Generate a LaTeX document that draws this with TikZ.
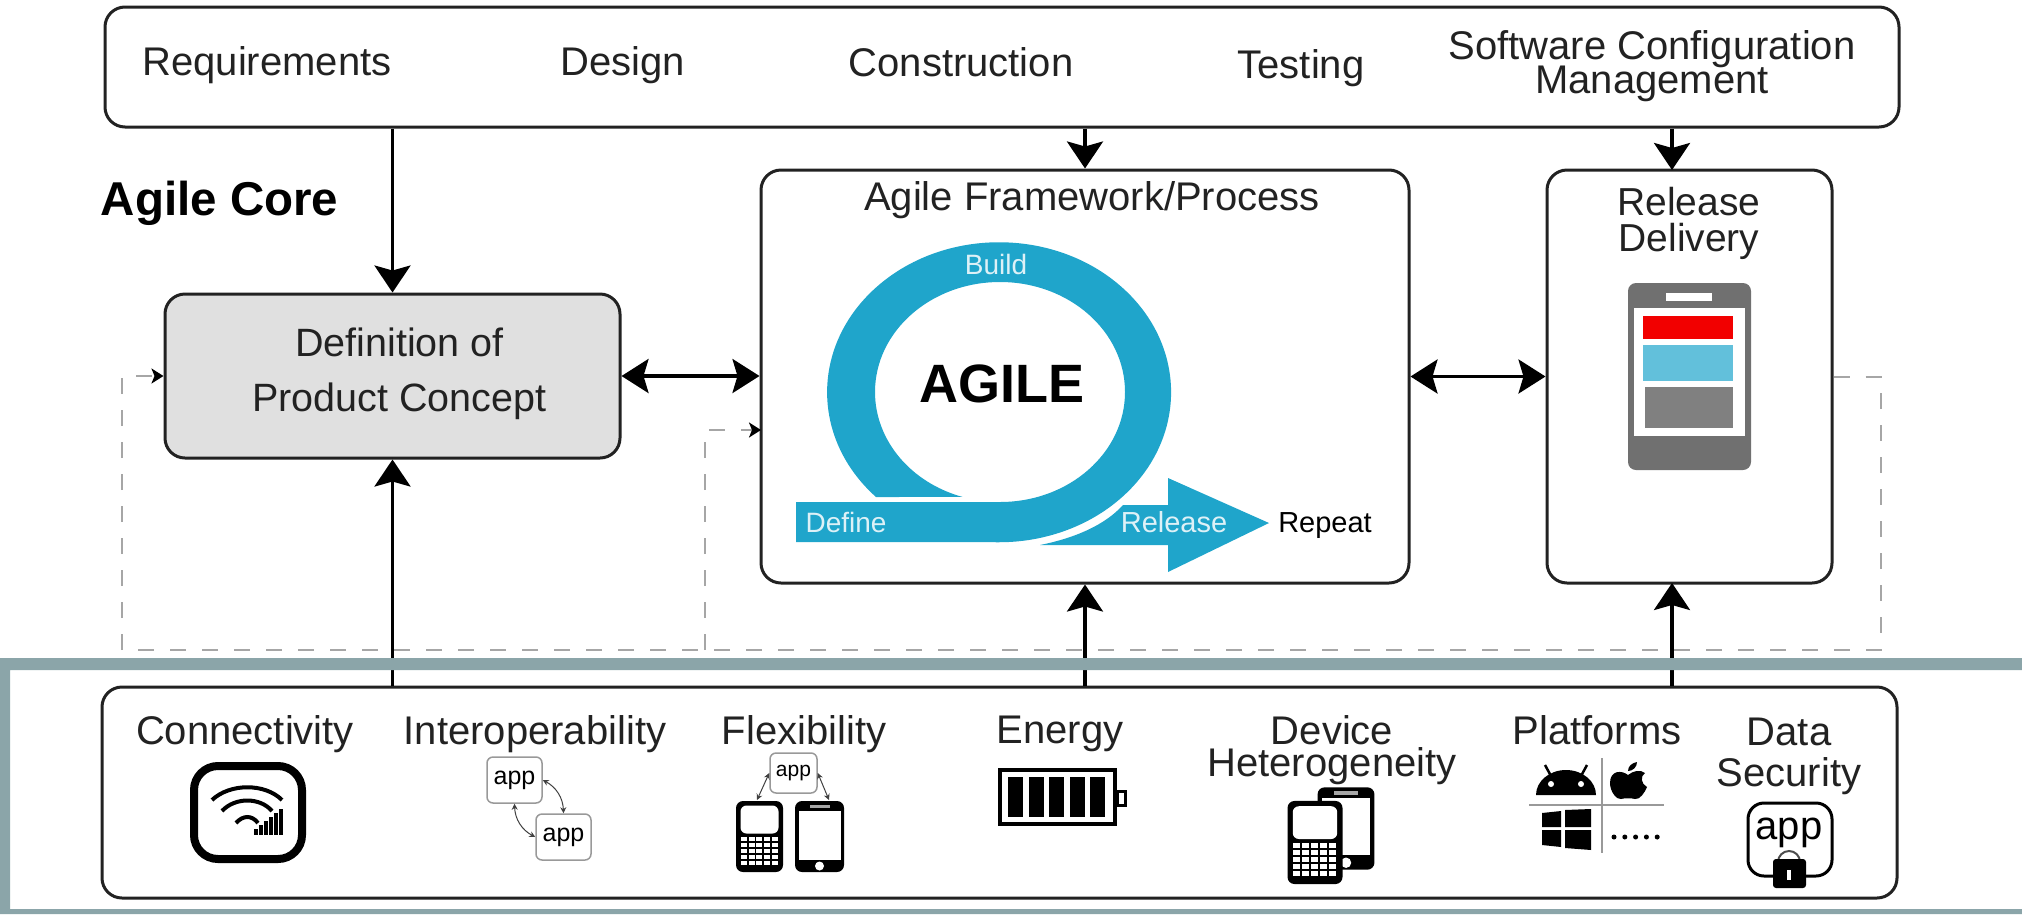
\documentclass[tikz,border=0pt]{standalone}
\usepackage{fontspec}
\setmainfont{Liberation Sans}
\usetikzlibrary{arrows.meta}

\definecolor{agileblue}{HTML}{1FA5CB}
\definecolor{framecol}{HTML}{8BA5A9}
\definecolor{inkcol}{HTML}{222222}

\def\tightlines{\lineskiplimit=-20pt\relax}

\tikzset{
    lab/.style={inner sep=0pt,text=inkcol,align=center,font=\fontsize{40}{34}\selectfont\tightlines},
    box/.style={draw=inkcol,line width=3pt,rounded corners=20pt,inner sep=0pt},
    bigarrow/.style={draw=black,line width=3.5pt,-{Stealth[length=27pt,width=36pt,inset=5pt]}},
    twoarrow/.style={draw=black,line width=3.5pt,{Stealth[length=27pt,width=34pt,inset=5pt]}-{Stealth[length=27pt,width=34pt,inset=5pt]}},
    dashline/.style={draw=gray!70,line width=2pt,dash pattern=on 16pt off 16pt},
    dashtip/.style={-{Stealth[length=12pt,width=15pt,inset=3pt,black]}},
    appbox/.style={draw=gray!80,line width=1.5pt,rounded corners=6pt,inner sep=0pt,text=black},
    appline/.style={draw=black!75,line width=1pt,{Stealth[length=6pt,width=6pt]}-{Stealth[length=6pt,width=6pt]}},
    keypad/.pic={
        \fill[rounded corners=7pt] (-23.5,-35.5) rectangle (23.5,35.5);
        \fill[white,rounded corners=6pt] (-19,-31) rectangle (19,-3);
        \foreach \i in {0,...,4}
            \foreach \j in {0,...,4}
                \fill[white] (-18.5+\i*7.7,0+\j*6) rectangle ++(6,4.4);
    },
    smartphone/.pic={
        \fill[rounded corners=7pt] (-24.5,-35.5) rectangle (24.5,35.5);
        \fill[white] (-21,-26) rectangle (21,23);
        \fill[gray!70] (-10,-32) rectangle (10,-28.5);
        \fill[white] (0,29.5) circle (4.5);
    },
}

\begin{document}
\begin{tikzpicture}[x=1pt,y=-1pt]
    \useasboundingbox (0,0) rectangle (2022,914);

    %main boxes:
    \node[box,minimum width=1794pt,minimum height=120pt] (top) at (1002,67) {};
    \node[box,minimum width=1795pt,minimum height=211pt] (bottom) at (999.5,792.5) {};
    \node[box,fill=gray!24,minimum width=455pt,minimum height=164pt] (def) at (392.5,376) {};
    \node[box,minimum width=648pt,minimum height=413pt] (frame) at (1085,376.5) {};
    \node[box,minimum width=285pt,minimum height=413pt] (release) at (1689.5,376.5) {};
    \node[lab,font=\fontsize{39.5}{55}\selectfont] (deftext) at (399.5,374) {Definition of\\Product Concept};

    %top row:
    \node[lab] (req) at (267,65) {Requirements};
    \node[lab] (design) at (623,65) {Design};
    \node[lab] (constr) at (961,62) {Construction};
    \node[lab] (testing) at (1301,68) {Testing};
    \node[lab] (scm) at (1652,66) {Software Configuration\\Management};
    \node[lab,text=black,font=\fontsize{47.5}{47.5}\selectfont\bfseries] (core) at (219.5,203) {Agile Core};

    %arrows:
    \coordinate (reltop) at (1672,170);
    \coordinate (relbot) at (1672,583);
    \draw[bigarrow] (top.south -| def.north) -- (def.north);
    \draw[bigarrow] (top.south -| frame.north) -- (frame.north);
    \draw[bigarrow] (top.south -| reltop) -- (reltop);
    \draw[bigarrow] (bottom.north -| def.south) -- (def.south);
    \draw[bigarrow] (bottom.north -| frame.south) -- (frame.south);
    \draw[bigarrow] (bottom.north -| relbot) -- (relbot);
    \draw[twoarrow] (def.east) -- (frame.west |- def.east);
    \draw[twoarrow] (frame.east |- release.west) -- (release.west);

    %dashed feedback:
    \coordinate (dashse) at (1881,650);
    \coordinate (dashsw) at (122,650);
    \coordinate (dashmid) at (705,650);
    \coordinate (framein) at (761,430);
    \draw[dashline,dashtip] (release.east) -| (dashse) -- (dashsw) |- (def.west);
    \draw[dashline,dashtip] (dashmid) |- (framein);

    %agile loop:
    \node[lab] (ftitle) at (1092,200) {Agile Framework/Process};
    \fill[agileblue] (876,497) arc[start angle=135.7,end angle=450,x radius=172,y radius=150]
        -- (796,542) -- (796,502) -- (1000,502)
        arc[start angle=90,end angle=-252.6,x radius=125,y radius=110] -- cycle;
    \fill[agileblue] (1040,545) .. controls (1075,538) and (1105,525) .. (1123,505)
        -- (1168,505) -- (1168,478) -- (1269,523) -- (1168,572) -- (1168,545) -- cycle;
    \node[lab,text=white!85!agileblue,font=\fontsize{28}{28}\selectfont] (build) at (996,264) {Build};
    \node[lab,text=white!85!agileblue,font=\fontsize{28}{28}\selectfont] (define) at (846,522) {Define};
    \node[lab,text=white!85!agileblue,font=\fontsize{29}{29}\selectfont] (rel) at (1174,522) {Release};
    \node[lab,text=black,font=\fontsize{29}{29}\selectfont] (repeat) at (1325,526) {Repeat};
    \node[lab,text=black,font=\fontsize{54}{54}\selectfont\bfseries] (agile) at (1002,384) {AGILE};

    %release phone:
    \node[lab,font=\fontsize{39}{36}\selectfont] (rtitle) at (1689,223) {Release\\Delivery};
    \fill[black!56,rounded corners=8pt] (1628,283) rectangle (1751,470);
    \fill[white] (1666,293) rectangle (1712,301);
    \fill[white] (1634,308) rectangle (1745,436);
    \fill[red!95!black] (1643,316) rectangle (1733,339);
    \fill[agileblue!70!white] (1643,345) rectangle (1733,381);
    \fill[black!50] (1645,387) rectangle (1733,428);

    %bottom labels:
    \node[lab] (conn) at (245,734) {Connectivity};
    \node[lab] (inter) at (535,734) {Interoperability};
    \node[lab] (flex) at (804,734) {Flexibility};
    \node[lab] (energy) at (1060,734) {Energy};
    \node[lab,font=\fontsize{40}{32}\selectfont] (device) at (1332,750) {Device\\Heterogeneity};
    \node[lab] (plat) at (1597,730) {Platforms};
    \node[lab,font=\fontsize{40}{41}\selectfont] (security) at (1789,756) {Data\\Security};

    %connectivity icon:
    \draw[line width=8pt,rounded corners=24pt] (194,766) rectangle (302,859);
    \draw[line width=4pt] (212,800) .. controls (230,783) and (265,783) .. (282,800);
    \draw[line width=4pt] (222,811) .. controls (235,797) and (260,797) .. (272,811);
    \draw[line width=4pt] (236,823) .. controls (243,815) and (252,815) .. (258,823);
    \foreach \i in {0,...,5}
        \fill (254+\i*5,835-6-\i*4) rectangle ++(3.6,6+\i*4);

    %interoperability icon:
    \node[appbox,minimum width=55pt,minimum height=46pt,font=\fontsize{25}{25}\selectfont] (appa) at (514.5,780) {app};
    \node[appbox,minimum width=55pt,minimum height=46pt,font=\fontsize{25}{25}\selectfont] (appb) at (563.5,837) {app};
    \draw[appline] (appa.east) to[bend left=30] (appb.north);
    \draw[appline] (appa.south) to[bend right=30] (appb.west);

    %flexibility icon:
    \node[appbox,minimum width=47pt,minimum height=40pt,font=\fontsize{21}{21}\selectfont] (appc) at (793.5,773) {app};
    \pic at (759.5,836.5) {keypad};
    \pic at (819.5,836.5) {smartphone};
    \coordinate (keytop) at (757,800);
    \coordinate (smarttop) at (829,800);
    \draw[appline] (appc.west) -- (keytop);
    \draw[appline] (appc.east) -- (smarttop);

    %energy icon:
    \draw[line width=4pt] (1000,770) rectangle (1115,824);
    \draw[line width=3pt] (1117,791) rectangle (1125,805);
    \foreach \i in {0,...,4}
        \fill (1008+\i*20.6,777) rectangle ++(15,40);

    %device icon:
    \pic[scale=1.16] at (1346,828.5) {smartphone};
    \pic[scale=1.17] at (1315,842.5) {keypad};

    %platforms icon:
    \draw[gray!80,line width=1.5pt] (1602,758) -- (1602,853);
    \draw[gray!80,line width=1.5pt] (1529,805) -- (1664,805);
    \fill (1536,795) arc[start angle=180,end angle=360,x radius=30,y radius=25] -- cycle;
    \draw[line width=2.5pt] (1551,776) -- (1545,765);
    \draw[line width=2.5pt] (1581,776) -- (1587,765);
    \fill[white] (1551,784) circle (3);
    \fill[white] (1581,784) circle (3);
    \fill (1628,775) .. controls (1622,770) and (1610,770) .. (1610,783) .. controls (1610,792) and (1617,800) .. (1621,799) .. controls (1624,798) and (1632,798) .. (1635,799) .. controls (1640,800) and (1645,792) .. (1647,787) .. controls (1641,784) and (1640,776) .. (1645,773) .. controls (1640,769) and (1633,771) .. (1628,775) -- cycle;
    \fill (1628,771) .. controls (1628,766) and (1632,763) .. (1637,762) .. controls (1637,767) and (1633,771) .. (1628,771) -- cycle;
    \fill (1542,813) -- (1561,811) -- (1561,827) -- (1542,827) -- cycle;
    \fill (1565,810) -- (1591,809) -- (1591,827) -- (1565,827) -- cycle;
    \fill (1542,830) -- (1561,830) -- (1561,847) -- (1542,845) -- cycle;
    \fill (1565,830) -- (1591,830) -- (1591,850) -- (1565,848) -- cycle;
    \foreach \i in {0,...,4}
        \fill (1614+\i*10.8,837) circle (2.5);

    %data security icon:
    \node[draw,line width=3pt,rounded corners=16pt,inner sep=0pt,minimum width=84pt,minimum height=73pt] (appd) at (1790,839.5) {};
    \node[inner sep=0pt,text=black,font=\fontsize{40}{40}\selectfont] (apptext) at (1789,833) {app};
    \draw[gray!60!black,line width=2pt] (1778,862) arc[start angle=180,end angle=360,radius=11];
    \fill[rounded corners=3pt] (1773,859) rectangle (1806,888);
    \fill[white] (1787,870) rectangle (1791,880);

    %frame on top:
    \fill[framecol,even odd rule] (0,658) rectangle (2022,914) (10,670) rectangle (2022,909);

\end{tikzpicture}
\end{document}
